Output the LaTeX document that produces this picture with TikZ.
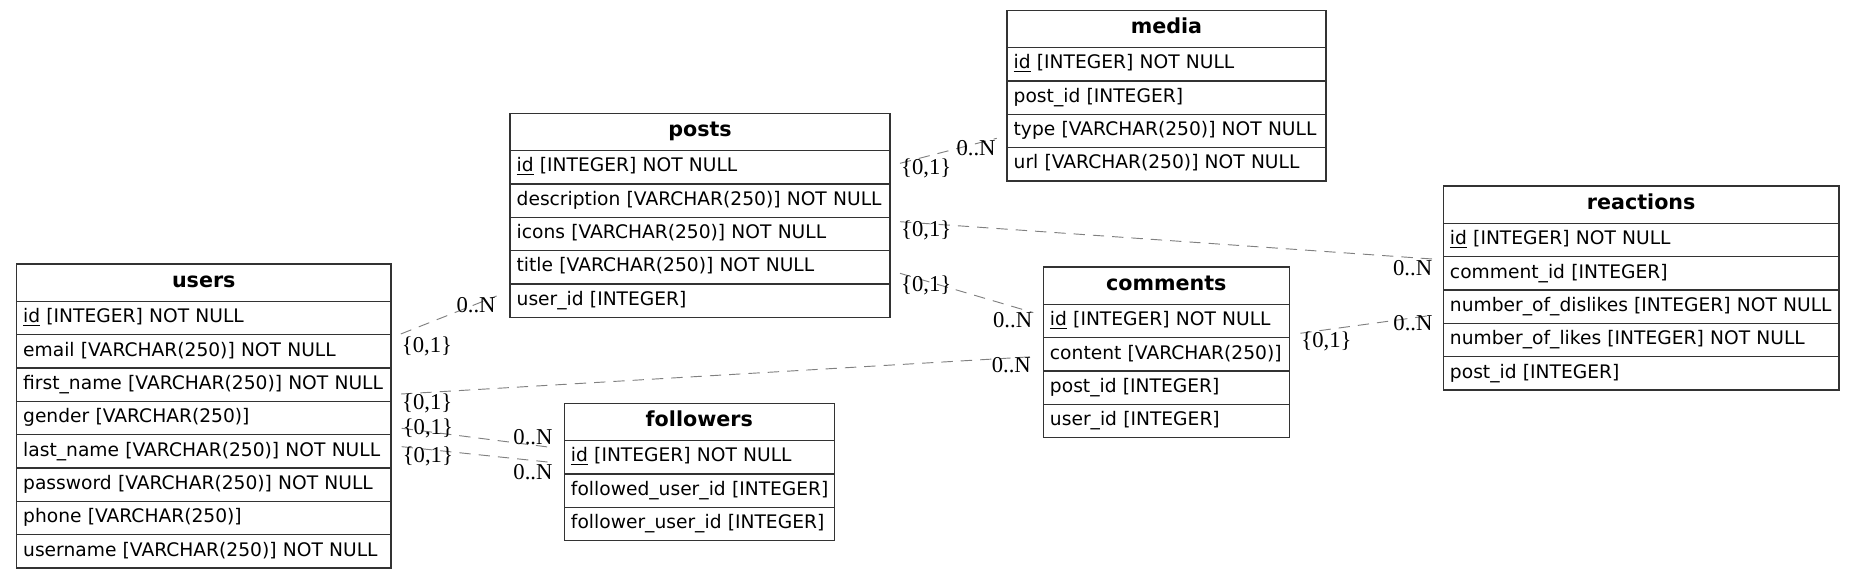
\documentclass[tikz,border=0pt]{standalone}
\usepackage{fontspec}
\setsansfont{DejaVu Sans}
\newfontfamily\cardfont{Liberation Serif}
\usetikzlibrary{positioning}

\begin{document}
\begin{tikzpicture}[x=0.75pt, y=-0.75pt,
  head/.style={draw=black!80, line width=0.9pt, outer sep=0pt, anchor=north west,
    minimum height=28pt, inner xsep=5pt, text width=#1, align=center,
    text height=10.5pt, text depth=3.5pt, font=\sffamily\bfseries\fontsize{15.5}{17}\selectfont},
  row/.style={draw=black!80, line width=0.9pt, outer sep=0pt,
    minimum height=25pt, inner xsep=5pt, text width=#1, align=left,
    text height=10.5pt, text depth=3.5pt, font=\sffamily\fontsize{14}{16}\selectfont,
    execute at begin node={\hbox\bgroup}, execute at end node={\egroup}},
  rel/.style={draw=black!50, line width=0.7pt, dash pattern=on 8.5pt off 6pt},
  card/.style={font=\cardfont\fontsize{17}{19}\selectfont, inner sep=0.5pt}]
\useasboundingbox (0,0) rectangle (1855,579);

% users
\node[head=270.9pt] (users) at (16.5,264) {users};
\node[row=270.9pt, below=0pt of users] (users-id) {\underline{id} [INTEGER] NOT NULL};
\node[row=270.9pt, below=0pt of users-id] (users-email) {email [VARCHAR(250)] NOT NULL};
\node[row=270.9pt, below=0pt of users-email] (users-first) {first\_name [VARCHAR(250)] NOT NULL};
\node[row=270.9pt, below=0pt of users-first] (users-gender) {gender [VARCHAR(250)]};
\node[row=270.9pt, below=0pt of users-gender] (users-last) {last\_name [VARCHAR(250)] NOT NULL};
\node[row=270.9pt, below=0pt of users-last] (users-password) {password [VARCHAR(250)] NOT NULL};
\node[row=270.9pt, below=0pt of users-password] (users-phone) {phone [VARCHAR(250)]};
\node[row=270.9pt, below=0pt of users-phone] (users-username) {username [VARCHAR(250)] NOT NULL};

% posts
\node[head=275pt] (posts) at (510,113.3) {posts};
\node[row=275pt, below=0pt of posts] (posts-id) {\underline{id} [INTEGER] NOT NULL};
\node[row=275pt, below=0pt of posts-id] (posts-desc) {description [VARCHAR(250)] NOT NULL};
\node[row=275pt, below=0pt of posts-desc] (posts-icons) {icons [VARCHAR(250)] NOT NULL};
\node[row=275pt, below=0pt of posts-icons] (posts-title) {title [VARCHAR(250)] NOT NULL};
\node[row=275pt, below=0pt of posts-title] (posts-userid) {user\_id [INTEGER]};

% media
\node[head=229.2pt] (media) at (1007,10.3) {media};
\node[row=229.2pt, below=0pt of media] (media-id) {\underline{id} [INTEGER] NOT NULL};
\node[row=229.2pt, below=0pt of media-id] (media-postid) {post\_id [INTEGER]};
\node[row=229.2pt, below=0pt of media-postid] (media-type) {type [VARCHAR(250)] NOT NULL};
\node[row=229.2pt, below=0pt of media-type] (media-url) {url [VARCHAR(250)] NOT NULL};

% comments
\node[head=174.5pt] (comments) at (1043.3,267) {comments};
\node[row=174.5pt, below=0pt of comments] (comments-id) {\underline{id} [INTEGER] NOT NULL};
\node[row=174.5pt, below=0pt of comments-id] (comments-content) {content [VARCHAR(250)]};
\node[row=174.5pt, below=0pt of comments-content] (comments-postid) {post\_id [INTEGER]};
\node[row=174.5pt, below=0pt of comments-postid] (comments-userid) {user\_id [INTEGER]};

% reactions
\node[head=286.8pt] (reactions) at (1443.3,186) {reactions};
\node[row=286.8pt, below=0pt of reactions] (reactions-id) {\underline{id} [INTEGER] NOT NULL};
\node[row=286.8pt, below=0pt of reactions-id] (reactions-commentid) {comment\_id [INTEGER]};
\node[row=286.8pt, below=0pt of reactions-commentid] (reactions-dislikes) {number\_of\_dislikes [INTEGER] NOT NULL};
\node[row=286.8pt, below=0pt of reactions-dislikes] (reactions-likes) {number\_of\_likes [INTEGER] NOT NULL};
\node[row=286.8pt, below=0pt of reactions-likes] (reactions-postid) {post\_id [INTEGER]};

% followers
\node[head=192.5pt] (followers) at (564.3,403.3) {followers};
\node[row=192.5pt, below=0pt of followers] (followers-id) {\underline{id} [INTEGER] NOT NULL};
\node[row=192.5pt, below=0pt of followers-id] (followers-followed) {followed\_user\_id [INTEGER]};
\node[row=192.5pt, below=0pt of followers-followed] (followers-follower) {follower\_user\_id [INTEGER]};

% relations
\draw[rel] ([xshift=7.3pt,yshift=0.5pt]users-id.south east) -- ([xshift=-10pt,yshift=3.5pt]posts-userid.west)
  node[card, at start, anchor=west, yshift=-9.5pt] (posts-users-t) {\{0,1\}}
  node[card, at end, anchor=east, yshift=-6.75pt] (posts-users-h) {0..N};
\draw[rel] ([xshift=7.5pt,yshift=3pt]posts-id.east) -- ([xshift=-7.7pt,yshift=-5.5pt]media-type.west)
  node[card, at start, anchor=west, yshift=-3.75pt] (media-posts-t) {\{0,1\}}
  node[card, at end, anchor=east, yshift=-7.5pt] (media-posts-h) {0..N};
\draw[rel] ([xshift=7.5pt,yshift=9.2pt]posts-icons.east) -- ([xshift=-7.5pt,yshift=-1.8pt]reactions-commentid.north west)
  node[card, at start, anchor=west, yshift=-6.2pt] (reactions-posts-t) {\{0,1\}}
  node[card, at end, anchor=east, yshift=-7pt] (reactions-posts-h) {0..N};
\draw[rel] ([xshift=7.5pt,yshift=-4.5pt]posts-title.east) -- ([xshift=-7.5pt,yshift=6.3pt]comments-id.west)
  node[card, at start, anchor=west, yshift=-8.8pt] (comments-posts-t) {\{0,1\}}
  node[card, at end, anchor=east, yshift=-6pt] (comments-posts-h) {0..N};
\draw[rel] ([xshift=7.5pt,yshift=-7pt]users-first.east) -- ([xshift=-8.5pt,yshift=-1.8pt]comments-content.west)
  node[card, at start, anchor=west, yshift=-7pt] (comments-users-t) {\{0,1\}}
  node[card, at end, anchor=east, yshift=-6.2pt] (comments-users-h) {0..N};
\draw[rel] ([xshift=8pt,yshift=-7.7pt]users-gender.east) -- ([xshift=-8pt,yshift=7.2pt]followers-id.west)
  node[card, at start, anchor=west] (followed-users-t) {\{0,1\}}
  node[card, at end, anchor=east, yshift=8.2pt] (followed-users-h) {0..N};
\draw[rel] ([xshift=8pt,yshift=3.5pt]users-last.east) -- ([xshift=-8pt,yshift=-4pt]followers-id.west)
  node[card, at start, anchor=west, yshift=-7pt] (follower-users-t) {\{0,1\}}
  node[card, at end, anchor=east, yshift=-6.75pt] (follower-users-h) {0..N};
\draw[rel] ([xshift=8.25pt,yshift=-9.2pt]comments-id.east) -- ([xshift=-7.3pt,yshift=-6.3pt]reactions-dislikes.west)
  node[card, at start, anchor=west, yshift=-6.3pt] (reactions-comments-t) {\{0,1\}}
  node[card, at end, anchor=east, yshift=-6.2pt] (reactions-comments-h) {0..N};
\end{tikzpicture}
\end{document}
